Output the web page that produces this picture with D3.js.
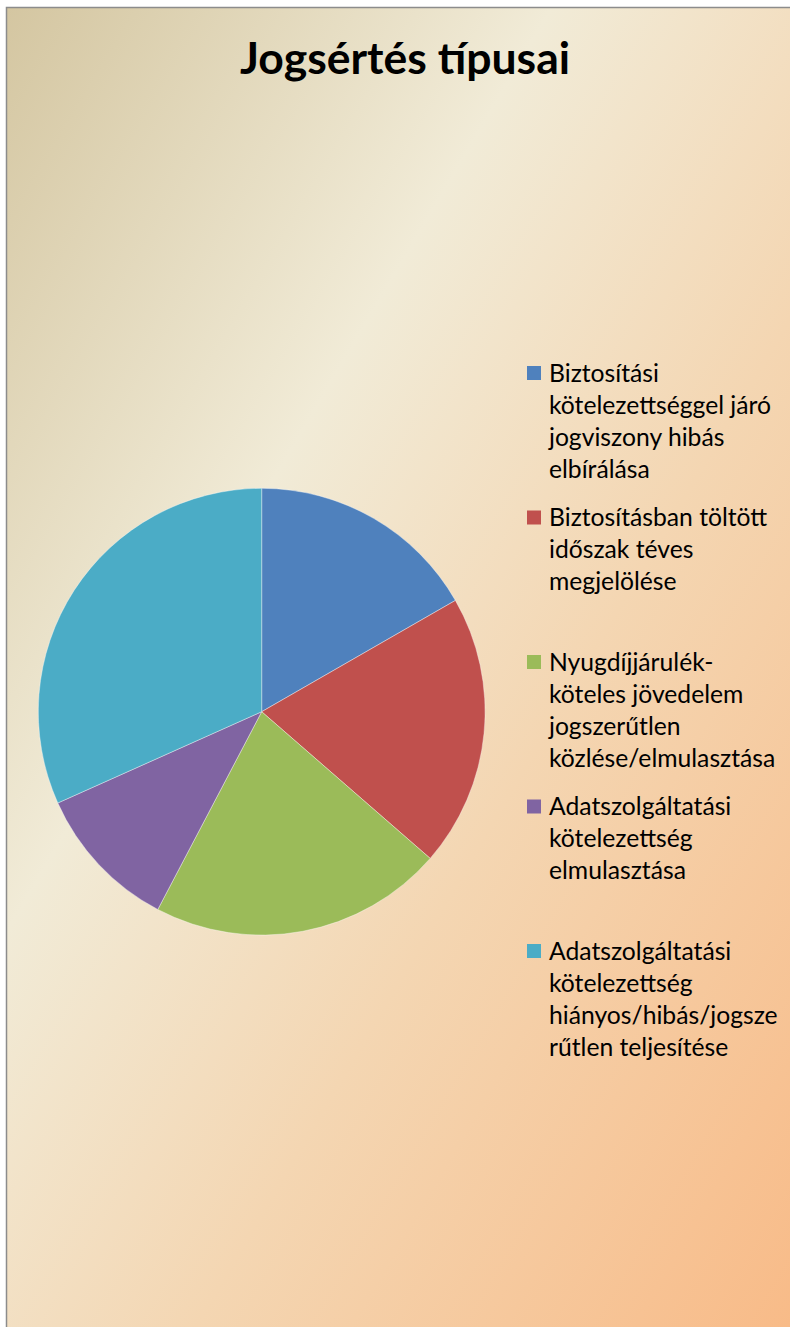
<!DOCTYPE html>
<html>
<head>
<meta charset="utf-8">
<script src="https://cdn.jsdelivr.net/npm/d3@7"></script>
<style>
  html, body { margin: 0; padding: 0; background: #fff; }
  svg { display: block; }
</style>
</head>
<body>
<div class="chart"></div>
<script>
var width = 790,
    height = 1327;

// slice values (percent), clockwise from 12 o'clock
var categories = [
  ["Biztosítási", "kötelezettséggel járó", "jogviszony hibás", "elbírálása"],
  ["Biztosításban töltött", "időszak téves", "megjelölése"],
  ["Nyugdíjjárulék-", "köteles jövedelem", "jogszerűtlen", "közlése/elmulasztása"],
  ["Adatszolgáltatási", "kötelezettség", "elmulasztása"],
  ["Adatszolgáltatási", "kötelezettség", "hiányos/hibás/jogsze", "rűtlen teljesítése"]
];
var values = [16.7, 19.7, 21.3, 10.6, 31.7];
var colors = ["#4f81bd", "#c0504d", "#9bbb59", "#8064a2", "#4bacc6"];
var title = "Jogsértés típusai";

var svg = d3.select(".chart").append("svg")
    .attr("width", width)
    .attr("height", height);

var defs = svg.append("defs");
var grad = defs.append("linearGradient")
    .attr("id", "bg")
    .attr("gradientUnits", "userSpaceOnUse")
    .attr("x1", 6).attr("y1", 7)
    .attr("x2", 1164).attr("y2", 690);
grad.append("stop").attr("offset", 0).attr("stop-color", "#d4c6a1");
grad.append("stop").attr("offset", 0.35).attr("stop-color", "#f1ebd7");
grad.append("stop").attr("offset", 0.62).attr("stop-color", "#f4d6b2");
grad.append("stop").attr("offset", 1).attr("stop-color", "#f8bb88");

svg.append("rect")
    .attr("x", 6.5).attr("y", 7.5)
    .attr("width", 800).attr("height", 1330)
    .attr("fill", "url(#bg)")
    .attr("stroke", "#8c8c8c")
    .attr("stroke-width", 1.5);

svg.append("text")
    .attr("x", 405)
    .attr("y", 74)
    .attr("text-anchor", "middle")
    .style("font-family", "Lato, 'Open Sans', sans-serif")
    .style("font-weight", "bold")
    .style("font-size", "44.5px")
    .attr("fill", "#000")
    .text(title);

// pie
var cx = 261.7, cy = 711.7, r = 223.4;
var pie = d3.pie().sort(null).value(function(d){ return d; });
var arc = d3.arc().innerRadius(0).outerRadius(r);

var g = svg.append("g")
    .attr("transform", "translate(" + cx + "," + cy + ")");

g.selectAll("path")
    .data(pie(values))
    .enter().append("path")
    .attr("d", arc)
    .attr("fill", function(d, i){ return colors[i]; })
    .attr("stroke", "#ffffff")
    .attr("stroke-opacity", 0.5)
    .attr("stroke-width", 0.75);

// legend
var legendY = d3.scaleLinear().domain([0, 1]).range([373, 517.5]);
var legend = svg.append("g").attr("class", "legend");

var item = legend.selectAll("g")
    .data(categories)
    .enter().append("g")
    .attr("transform", function(d, i){ return "translate(527," + legendY(i) + ")"; });

item.append("rect")
    .attr("x", 0).attr("y", -7)
    .attr("width", 14).attr("height", 14)
    .attr("fill", function(d, i){ return colors[i]; });

item.append("text")
    .style("font-family", "Lato, 'Open Sans', sans-serif")
    .style("font-size", "24.7px")
    .attr("fill", "#000")
    .selectAll("tspan")
    .data(function(d){ return d; })
    .enter().append("tspan")
    .attr("x", 22)
    .attr("y", function(d, j){ return 8.5 + j * 32; })
    .text(function(d){ return d; });
</script>
</body>
</html>
